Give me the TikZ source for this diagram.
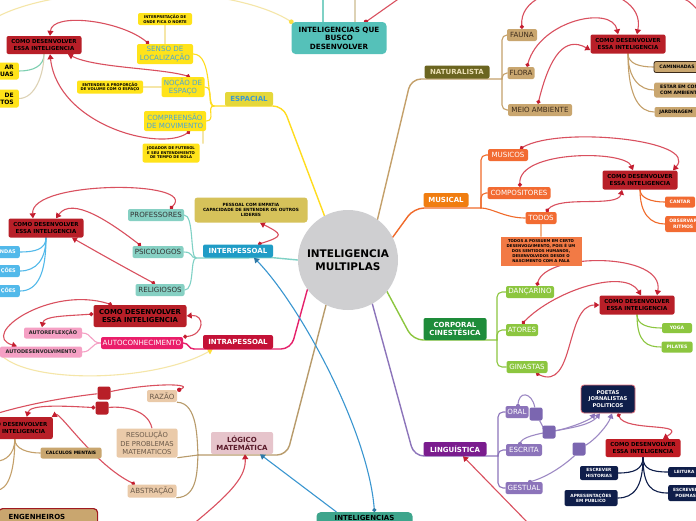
\documentclass[tikz,border=0pt]{standalone}
\usepackage{fontspec}
\setmainfont{DejaVu Sans}
\usetikzlibrary{arrows.meta,backgrounds}
\newcommand\fz[2]{\fontsize{#1}{#2}\selectfont}
\definecolor{circfill}{HTML}{CFCFD1}
\definecolor{iquefill}{HTML}{55C1B9}
\definecolor{comofill}{HTML}{B81F28}
\definecolor{relc}{HTML}{D9505F}
\definecolor{reld}{HTML}{C41E30}
\definecolor{espfill}{HTML}{E5D73A}
\definecolor{esptext}{HTML}{3D9AD1}
\definecolor{ychild}{HTML}{FFE31A}
\definecolor{ychildtext}{HTML}{4AA6D6}
\definecolor{yline}{HTML}{FFDC1E}
\definecolor{ypale}{HTML}{F5E6A8}
\definecolor{ipfill}{HTML}{1F9CC6}
\definecolor{ipchild}{HTML}{86D0C3}
\definecolor{ipline}{HTML}{7FD1C5}
\definecolor{empfill}{HTML}{D6C25A}
\definecolor{bluelf}{HTML}{52B9EA}
\definecolor{intrafill}{HTML}{C41237}
\definecolor{magline}{HTML}{E5206A}
\definecolor{autofill}{HTML}{EA1E6A}
\definecolor{pinklf}{HTML}{F5A0C4}
\definecolor{natfill}{HTML}{6B6520}
\definecolor{nattext}{HTML}{E9DDB2}
\definecolor{tanf}{HTML}{C9A66F}
\definecolor{tanline}{HTML}{C4A06A}
\definecolor{brownt}{HTML}{3B2A1A}
\definecolor{musfill}{HTML}{F07D10}
\definecolor{orline}{HTML}{F06A2A}
\definecolor{orchild}{HTML}{F26B32}
\definecolor{notefill}{HTML}{F27A45}
\definecolor{noteline}{HTML}{F5B58C}
\definecolor{corpfill}{HTML}{1E8C3A}
\definecolor{grline}{HTML}{8CC63F}
\definecolor{lingfill}{HTML}{7A1C8E}
\definecolor{puline}{HTML}{8C74BA}
\definecolor{pusq}{HTML}{7B66B0}
\definecolor{navyf}{HTML}{0F1E4A}
\definecolor{logfill}{HTML}{E6C4CB}
\definecolor{logtext}{HTML}{5A1A2A}
\definecolor{logchild}{HTML}{EACAA9}
\definecolor{logctext}{HTML}{6B5A4A}
\definecolor{logline}{HTML}{B89B6B}
\definecolor{intbfill}{HTML}{3EA58C}
\definecolor{bluerel}{HTML}{3A96D0}
\definecolor{engb}{HTML}{A01A20}
\definecolor{tealgr}{HTML}{7DCFB0}
\definecolor{beigel}{HTML}{DDD2B5}
\begin{document}
\begin{tikzpicture}[x=1pt,y=-1pt,
 nb/.style={rounded corners=2pt, inner sep=0pt, align=center},
 wh/.style 2 args={minimum width=#1, minimum height=#2},
 como/.style={nb, fill=comofill, font=\fz{5.5}{6.8}\bfseries},
 lf/.style={nb, font=\fz{4.6}{5.6}\bfseries},
 chd/.style={nb, font=\fz{7.1}{8.4}},
 brn/.style={nb, font=\fz{7}{8.4}\bfseries},
 relx/.style={draw=relc, line width=1.1pt, {Circle[length=4pt,color=reld]}-{Triangle[length=5pt,width=6pt,color=reld]}},
 relna/.style={draw=relc, line width=1.1pt, -{Triangle[length=5pt,width=6pt,color=reld]}},
 tl/.style={line width=1.4pt, line cap=round},
 sl/.style={line width=1.1pt, line cap=round},
 purel/.style={draw=puline!85, line width=1.1pt, -{Triangle[length=5pt,width=6pt,color=puline]}},
 bluer/.style={draw=bluerel, line width=1.1pt},
]
\useasboundingbox (0,0) rectangle (696,520);

% ---------- central ----------
\node[circle, fill=circfill, minimum size=100, inner sep=0pt, align=center, font=\fz{10.5}{12.6}\bfseries] (circ) at (348,260) {INTELIGENCIA\\MULTIPLAS};
\node[nb, wh={95}{32}, fill=iquefill, font=\fz{7.2}{8.6}\bfseries, rounded corners=4pt] (ique) at (339,38) {INTELIGENCIAS QUE\\BUSCO\\DESENVOLVER};

% ---------- espacial ----------
\node[brn, wh={48}{14}, fill=espfill, text=esptext] (esp) at (249,99) {ESPACIAL};
\node[chd, wh={56}{20}, fill=ychild, text=ychildtext] (senso) at (165,54) {SENSO DE\\LOCALIZAÇÃO};
\node[chd, wh={43}{20}, fill=ychild, text=ychildtext] (nocao) at (183,87) {NOÇÃO DE\\ESPAÇO};
\node[chd, wh={62}{20}, fill=ychild, text=ychildtext] (comp) at (175,121) {COMPREENSÃO\\DE MOVIMENTO};
\node[nb, wh={54}{12}, fill=ychild, font=\fz{3.8}{4.6}\bfseries] (interp) at (165,19) {INTERPRETAÇÃO DE\\ONDE FICA O NORTE};
\node[nb, wh={66}{13}, fill=ychild, font=\fz{3.8}{4.6}\bfseries] (entender) at (110,87) {ENTENDER A PROPORÇÃO\\DE VOLUME COM O ESPAÇO};
\node[nb, wh={57}{19}, fill=ychild, font=\fz{3.8}{4.6}\bfseries] (jogador) at (171,153) {JOGADOR DE FUTEBOL\\E SEU ENTENDIMENTO\\DE TEMPO DE BOLA};
\node[como, wh={75}{18}] (comoE) at (44,45) {COMO DESENVOLVER\\ESSA INTELIGENCIA};
\node[nb, anchor=east, text width=30pt, inner xsep=5pt, minimum height=17, align=right, fill=ychild, font=\fz{6}{7.2}\bfseries] (leftA) at (19,71) {AR\hspace*{7pt}\\UAS};
\node[nb, anchor=east, text width=30pt, inner xsep=5pt, minimum height=18, align=right, fill=ychild, font=\fz{6}{7.2}\bfseries] (leftB) at (19,98.5) {DE\hspace*{4pt}\\TOS};

% ---------- interpessoal ----------
\node[brn, wh={70}{13}, fill=ipfill, text=white] (interpes) at (238,251) {INTERPESSOAL};
\node[nb, wh={113}{25}, fill=empfill, font=\fz{4.3}{5.3}\bfseries, rounded corners=3pt] (pessoal) at (251,210) {PESSOAL COM EMPATIA\\CAPACIDADE DE ENTENDER OS OUTROS\\LIDERES};
\node[chd, wh={56}{12}, fill=ipchild, text=black!80] (prof) at (156,215) {PROFESSORES};
\node[chd, wh={51}{12}, fill=ipchild, text=black!80] (psic) at (158,252) {PSICOLOGOS};
\node[chd, wh={49}{12}, fill=ipchild, text=black!80] (relig) at (160,290) {RELIGIOSOS};
\node[como, wh={75}{19}] (comoI) at (46,228) {COMO DESENVOLVER\\ESSA INTELIGENCIA};
\node[nb, anchor=east, text width=30pt, inner xsep=4pt, minimum height=12, align=right, fill=bluelf, text=white, font=\fz{5}{6}\bfseries] (b1) at (20,252) {NDAS};
\node[nb, anchor=east, text width=30pt, inner xsep=4pt, minimum height=12, align=right, fill=bluelf, text=white, font=\fz{5}{6}\bfseries] (b2) at (20,271) {ÇÕES};
\node[nb, anchor=east, text width=30pt, inner xsep=4pt, minimum height=12, align=right, fill=bluelf, text=white, font=\fz{5}{6}\bfseries] (b3) at (20,291) {ÇÕES};

% ---------- intrapessoal ----------
\node[brn, wh={70}{14}, fill=intrafill, text=white] (intra) at (238,342) {INTRAPESSOAL};
\node[chd, wh={82}{12}, fill=autofill, text=white] (autocon) at (142,343) {AUTOCONHECIMENTO};
\node[como, wh={93}{22}, font=\fz{6.9}{8.4}\bfseries] (comoIn) at (140,316) {COMO DESENVOLVER\\ESSA INTELIGENCIA};
\node[nb, wh={58}{11}, fill=pinklf, text=black!85, font=\fz{5}{6}\bfseries] (autoref) at (53,333) {AUTOREFLEXÇÃO};
\node[nb, wh={82}{11}, fill=pinklf, text=black!85, font=\fz{5}{6}\bfseries] (autodes) at (41,352) {AUTODESENVOLVIMENTO};

% ---------- naturalista ----------
\node[brn, wh={65}{13}, fill=natfill, text=nattext] (nat) at (457,72) {NATURALISTA};
\node[chd, wh={30}{12}, fill=tanf, text=brownt] (fauna) at (522,35) {FAUNA};
\node[chd, wh={27}{12}, fill=tanf, text=brownt] (flora) at (521,73) {FLORA};
\node[chd, wh={64}{12}, fill=tanf, text=brownt] (meio) at (540,110) {MEIO AMBIENTE};
\node[como, wh={75}{19}] (comoN) at (628,44) {COMO DESENVOLVER\\ESSA INTELIGENCIA};
\node[lf, wh={46}{11}, fill=tanf, draw=brownt, line width=0.8pt] (camin) at (677,67) {CAMINHADAS};
\node[lf, anchor=west, text width=60pt, inner xsep=6pt, minimum height=15, align=left, fill=tanf] (estar) at (654,90) {ESTAR EM CONTATO\\COM AMBIENTE};
\node[lf, wh={43}{10}, fill=tanf] (jard) at (676,112) {JARDINAGEM};

% ---------- musical ----------
\node[brn, wh={45}{14}, fill=musfill, text=white] (mus) at (446,200) {MUSICAL};
\node[chd, wh={40}{12}, fill=orchild, text=white] (musicos) at (508,155) {MUSICOS};
\node[chd, wh={63}{12}, fill=orchild, text=white] (compos) at (519,193) {COMPOSITORES};
\node[chd, wh={31}{12}, fill=orchild, text=white] (todos) at (541,218) {TODOS};
\node[nb, wh={81}{29}, fill=notefill, font=\fz{3.9}{4.9}\bfseries, rounded corners=0pt] (note) at (541,251) {TODOS A POSSUEM EM CERTO\\DESENVOLVIMENTO, POIS É UM\\DOS SENTIDOS HUMANOS,\\DESENVOLVIDOS DESDE O\\NASCIMENTO COM A FALA};
\node[como, wh={75}{19}] (comoM) at (640,180) {COMO DESENVOLVER\\ESSA INTELIGENCIA};
\node[lf, wh={30}{11}, fill=orchild, text=white] (cantar) at (680,202) {CANTAR};
\node[lf, anchor=west, wh={36}{16}, fill=orchild, text=white] (observar) at (665,224) {OBSERVAR\\RITMOS};

% ---------- corporal ----------
\node[brn, wh={63}{22}, fill=corpfill, text=white] (corp) at (455,329) {CORPORAL\\CINESTÉSICA};
\node[chd, wh={48}{12}, fill=grline, text=white] (danc) at (530,292) {DANÇARINO};
\node[chd, wh={32}{12}, fill=grline, text=white] (atores) at (522,330) {ATORES};
\node[chd, wh={41}{12}, fill=grline, text=white] (ginastas) at (527,367) {GINASTAS};
\node[como, wh={75}{19}] (comoC) at (637,305) {COMO DESENVOLVER\\ESSA INTELIGENCIA};
\node[lf, wh={30}{10}, fill=grline, text=white] (yoga) at (677,328) {YOGA};
\node[lf, wh={31}{11}, fill=grline, text=white] (pilates) at (677,347) {PILATES};

% ---------- linguistica ----------
\node[brn, wh={63}{14}, fill=lingfill, text=white] (ling) at (455,449) {LINGUÍSTICA};
\node[chd, wh={23}{12}, fill=puline, text=white] (oral) at (517,412) {ORAL};
\node[chd, wh={36}{12}, fill=puline, text=white] (escrita) at (524,450) {ESCRITA};
\node[chd, wh={37}{12}, fill=puline, text=white] (gestual) at (524,488) {GESTUAL};
\node[nb, wh={54}{28}, fill=navyf, text=white, draw=relc!80, line width=0.8pt, font=\fz{5.2}{6.3}\bfseries, rounded corners=3pt] (poetas) at (608,399) {POETAS\\JORNALISTAS\\POLITICOS};
\node[como, wh={75}{18}, fill=comofill!90!red] (comoL) at (643,448) {COMO DESENVOLVER\\ESSA INTELIGENCIA};
\node[lf, wh={38}{14}, fill=navyf, text=white, font=\fz{4.3}{5.2}\bfseries] (escHist) at (599,473) {ESCREVER\\HISTORIAS};
\node[lf, wh={53}{16}, fill=navyf, text=white, font=\fz{4.3}{5.2}\bfseries] (apres) at (591,498) {APRESENTAÇÕES\\EM PUBLICO};
\node[lf, anchor=west, wh={32}{10}, fill=navyf, text=white, font=\fz{4.3}{5.2}\bfseries] (leitura) at (668,472) {LEITURA};
\node[lf, anchor=west, wh={35}{16}, fill=navyf, text=white, font=\fz{4.3}{5.2}\bfseries] (escPoem) at (668,493) {ESCREVER\\POEMAS};
\node[fill=pusq, rounded corners=2pt, minimum size=13, inner sep=0pt] (sq1) at (536,414) {};
\node[fill=pusq, rounded corners=2pt, minimum size=13, inner sep=0pt] (sq2) at (549,432) {};
\node[fill=pusq, rounded corners=2pt, minimum size=13, inner sep=0pt] (sq3) at (579,449) {};

% ---------- logico ----------
\node[brn, wh={62}{22}, fill=logfill, text=logtext] (logico) at (242,443) {LÓGICO\\MATEMÁTICA};
\node[chd, wh={30}{12}, fill=logchild, text=logctext] (razao) at (162,396) {RAZÃO};
\node[chd, wh={61}{29}, fill=logchild, text=logctext, font=\fz{6.8}{8.2}] (resol) at (147,443) {RESOLUÇÃO\\DE PROBLEMAS\\MATEMATICOS};
\node[chd, wh={49}{13}, fill=logchild, text=logctext] (abstr) at (152,491) {ABSTRAÇÃO};
\node[como, anchor=east, wh={76}{22}] (comoLo) at (53,428) {COMO DESENVOLVER\\ESSA INTELIGENCIA};
\node[lf, wh={61}{11}, fill=tanf, font=\fz{4.5}{5.4}\bfseries] (calc) at (71,453) {CALCULOS MENTAIS};
\node[fill=comofill, rounded corners=2pt, minimum size=13, inner sep=0pt] (sqA) at (104,393) {};
\node[fill=comofill, rounded corners=2pt, minimum size=13, inner sep=0pt] (sqB) at (102,408) {};
\node[nb, anchor=north west, text width=79pt, inner xsep=10pt, inner ysep=0pt, text height=11pt, text depth=12pt, align=left, fill=tanf, draw=engb, line width=1.2pt, rounded corners=4pt, font=\fz{7}{8.4}\bfseries] (eng) at (-2,508) {ENGENHEIROS};
\node[nb, anchor=north, minimum width=96, text height=8.5pt, text depth=14pt, fill=intbfill, rounded corners=4pt, font=\fz{7}{8.4}\bfseries] (intb) at (364.5,512) {INTELIGENCIAS};

% ---------- free ends ----------
\coordinate (espj) at (214,106);
\coordinate (ipj) at (196,258);
\coordinate (inj) at (194,349);
\coordinate (natj) at (502,79);
\coordinate (musj) at (481,208);
\coordinate (corj) at (497,340);
\coordinate (lingj) at (498,456);
\coordinate (logj) at (198,455);
\coordinate (yl0) at (-5,18);
\coordinate (yl1) at (-5,345);
\coordinate (tt1) at (323,-5);
\coordinate (tt2) at (355,-5);
\coordinate (tt3) at (404,-5);
\coordinate (tr1) at (676,-4);
\coordinate (tr2) at (700,12);
\coordinate (lfa) at (-3,461);
\coordinate (lfb) at (-3,490);
\coordinate (lfc) at (-5,414);
\coordinate (bl1) at (192,525);
\coordinate (bl2) at (530,525);

\begin{pgfonlayer}{background}
\fill[white] (0,0) rectangle (696,520);
% top free lines
\draw[ipline, sl] ([xshift=-16]ique.north) -- (tt1);
\draw[beigel, sl] ([xshift=16]ique.north) -- (tt2);
\draw[relx, -] ([xshift=27]ique.north) -- (tt3);
\fill[reld] ([xshift=27]ique.north) circle (2.2);
\draw[ypale, sl] (ique.north west) .. controls (230,-18) and (60,-18) .. (yl0);
\fill[yline!70!ypale] (ique.north west) circle (2.4);
\draw[relc, line width=1.1pt] (tr1) .. controls (688,0) .. (tr2);
\draw[ypale, sl, -{Triangle[length=5pt,width=6pt,color=yline!80!ypale]}] (yl1) .. controls (5,385) and (150,385) .. ([xshift=10]intra.south west);

% espacial tree
\draw[yline, tl, rounded corners=10] (circ.118) -- (283,106) -- (espj);
\draw[yline, sl] (espj) .. controls +(-8,0) and +(20,0) .. (senso.east);
\draw[yline, sl] (espj) .. controls +(-8,0) and +(10,0) .. (nocao.east);
\draw[yline, sl] (espj) .. controls +(-8,0) and +(10,0) .. (comp.east);
\draw[ypale, sl] (senso.north) -- (interp.south);
\draw[ypale, sl] (nocao.west) -- (entender.east);
\draw[ypale, sl] ([xshift=28]comp.south) -- ([xshift=32]jogador.north);
\draw[tealgr, sl] (comoE.south) .. controls +(0,12) and +(14,0) .. (leftA.east);
\draw[beigel, sl] (comoE.south) .. controls +(0,20) and +(16,0) .. (leftB.east);

% interpessoal tree
\draw[ipline, tl] (circ.west) -- (interpes.south east) -- (ipj);
\draw[ipline, sl] (ipj) .. controls +(-6,0) and +(10,0) .. (prof.east);
\draw[ipline, sl] (ipj) .. controls +(-6,0) and +(10,0) .. (psic.east);
\draw[ipline, sl] (ipj) .. controls +(-6,0) and +(10,0) .. (relig.east);
\draw[bluelf, sl] (comoI.south) .. controls +(0,12) and +(14,0) .. (b1.east);
\draw[bluelf, sl] (comoI.south) .. controls +(0,22) and +(16,0) .. (b2.east);
\draw[bluelf, sl] (comoI.south) .. controls +(0,35) and +(18,0) .. (b3.east);

% intrapessoal tree
\draw[magline, tl, rounded corners=10] (circ.216) -- (291,349) -- (inj);
\draw[magline, tl] (inj) .. controls +(-6,0) and +(6,0) .. (autocon.east);
\draw[pinklf, sl] (autocon.west) .. controls +(-10,0) and +(10,0) .. (autoref.east);
\draw[pinklf, sl] (autocon.west) .. controls +(-10,0) and +(10,0) .. (autodes.east);

% naturalista tree
\draw[tanline, tl, rounded corners=10] (circ.54) -- (411,79) -- (natj);
\draw[tanline, sl, rounded corners=5] (natj) |- (fauna.west);
\draw[tanline, sl, rounded corners=5] (natj) |- (flora.west);
\draw[tanline, sl, rounded corners=5] (natj) |- (meio.west);
\draw[tanline, sl] (comoN.south) .. controls +(0,10) and +(-14,0) .. (camin.west);
\draw[tanline, sl] (comoN.south) .. controls +(0,25) and +(-14,0) .. (estar.west);
\draw[tanline, sl] (comoN.south) .. controls +(0,45) and +(-14,0) .. (jard.west);

% musical tree
\draw[orline, tl, rounded corners=10] (circ.27) -- (414,208) -- (musj);
\draw[orline, sl, rounded corners=5] (musj) |- (musicos.west);
\draw[orline, sl, rounded corners=5] (musj) |- (compos.west);
\draw[orline, sl] (musj) .. controls (492,208) and (505,218) .. (todos.west);
\draw[noteline, sl] (todos.south) -- (note.north);
\draw[orline, sl] (comoM.south) .. controls +(0,8) and +(-14,0) .. (cantar.west);
\draw[orline, sl] (comoM.south) .. controls +(0,25) and +(-14,0) .. (observar.west);

% corporal tree
\draw[grline, tl, rounded corners=10] (circ.-39) -- (413,340) -- (corj);
\draw[grline, sl, rounded corners=5] (corj) |- (danc.west);
\draw[grline, sl, rounded corners=5] (corj) |- (atores.west);
\draw[grline, sl, rounded corners=5] (corj) |- (ginastas.west);
\draw[grline, sl] (comoC.south) .. controls +(0,10) and +(-14,0) .. (yoga.west);
\draw[grline, sl] (comoC.south) .. controls +(0,28) and +(-14,0) .. (pilates.west);

% linguistica tree
\draw[puline, tl, rounded corners=10] (circ.-61) -- (414,456) -- (lingj);
\draw[puline, sl, rounded corners=5] (lingj) |- (oral.west);
\draw[puline, sl, rounded corners=5] (lingj) |- (escrita.west);
\draw[puline, sl, rounded corners=5] (lingj) |- (gestual.west);
\draw[navyf, sl] (comoL.south) .. controls +(0,12) and +(16,0) .. (escHist.east);
\draw[navyf, sl] (comoL.south) .. controls +(0,30) and +(16,0) .. (apres.east);
\draw[navyf, sl] (comoL.south) .. controls +(0,12) and +(-16,0) .. (leitura.west);
\draw[navyf, sl] (comoL.south) .. controls +(0,30) and +(-16,0) .. (escPoem.west);

% logico tree
\draw[logline, tl, rounded corners=10] (circ.-116) -- (287,455) -- (logj);
\draw[logline, sl] (logj) .. controls (197,440) and (198,403) .. (razao.south east);
\draw[logline, sl] (logj) -- (resol.south east);
\draw[logline, sl] (logj) .. controls (197,470) and (198,497) .. (abstr.south east);
\draw[tanline, sl] (comoLo.south) .. controls +(0,10) and +(-12,0) .. (calc.west);
\draw[tanline, sl] (comoLo.south) .. controls +(0,15) and +(8,0) .. (lfa);
\draw[tanline, sl] (comoLo.south) .. controls +(0,35) and +(10,0) .. (lfb);

% ---------- relationships ----------
\draw[relx] ([xshift=-16]senso.north) .. controls (120,20) and (52,12) .. ([xshift=6]comoE.north);
\draw[relx] ([xshift=7]nocao.north) .. controls (160,68) and (95,68) .. ([xshift=24]comoE.south);
\draw[relx] ([xshift=15]comp.south) .. controls (160,152) and (58,125) .. ([xshift=6]comoE.south);

\draw[relx] ([xshift=14]prof.north) .. controls (200,180) and (30,180) .. ([xshift=-13]comoI.north);
\draw[relx] ([xshift=-17]psic.north) .. controls (110,222) and (72,196) .. ([xshift=10]comoI.north);
\draw[relx] ([xshift=-5]relig.north) .. controls (120,265) and (90,248) .. ([xshift=26]comoI.south);
\draw[relx] ([xshift=20]interpes.north) .. controls (285,236) and (282,234) .. ([xshift=9]pessoal.south);

\draw[relx] ([xshift=-28]comoIn.north) .. controls (50,285) and (-22,335) .. ([xshift=-24]autodes.north);
\draw[relx] ([yshift=2]comoIn.west) .. controls (65,316) and (44,316) .. ([xshift=-11]autoref.north);
\draw[relx] (autocon.north east) .. controls (205,335) and (205,314) .. (comoIn.east);

\draw[relx] (fauna.north) .. controls (518,-25) and (648,-22) .. ([xshift=9]comoN.north);
\draw[relx] ([xshift=6]flora.north) .. controls (540,20) and (612,5) .. ([xshift=-10]comoN.north);
\draw[relx] ([xshift=-2]meio.north) .. controls (550,55) and (565,36) .. ([yshift=-6]comoN.west);

\draw[relx] ([xshift=12]musicos.north) .. controls (560,126) and (700,140) .. ([xshift=33]comoM.north);
\draw[relx] ([xshift=1]compos.north) .. controls (518,150) and (625,150) .. ([xshift=-7]comoM.north);
\draw[relx] ([xshift=5]todos.north) .. controls (560,195) and (618,208) .. ([xshift=-18]comoM.south);

\draw[relx] ([xshift=7]danc.north) .. controls (545,252) and (665,252) .. ([xshift=20]comoC.north);
\draw[relx] (atores.north) .. controls (555,290) and (625,268) .. ([xshift=4]comoC.north);
\draw[relx] ([xshift=9]ginastas.south) .. controls (575,392) and (565,305) .. (comoC.west);

\draw[relx] ([xshift=10]poetas.south) .. controls (625,432) and (690,422) .. ([xshift=20]comoL.north);
\draw[puline!85, line width=1.1pt] ([xshift=1]oral.north) .. controls (518,390) and (532,392) .. (sq1);
\draw[purel] (sq1) .. controls (542,425) and (545,430) .. (sq2) .. controls (570,428) and (590,420) .. ([xshift=-13]poetas.south);
\draw[purel] ([xshift=-4]escrita.north) .. controls (522,430) and (585,432) .. ([xshift=-8]poetas.south);
\draw[purel] ([xshift=6]gestual.north) .. controls (555,475) and (575,455) .. (sq3) .. controls (595,440) and (608,425) .. ([xshift=4]poetas.south);
\fill[puline] ([xshift=-4]escrita.north) circle (2);
\fill[puline] ([xshift=6]gestual.north) circle (2);
\fill[puline] ([xshift=1]oral.north) circle (2);

\draw[relx, -] ([xshift=2]razao.north east) .. controls (198,383) and (150,383) .. (sqA) .. controls (60,398) and (25,405) .. (lfc);
\fill[reld] ([xshift=2]razao.north east) circle (2.2);
\draw[relx] ([xshift=5]resol.north) .. controls (148,410) and (125,406) .. (sqB) .. controls (65,406) and (30,404) .. ([xshift=12]comoLo.north);
\draw[relx] ([xshift=-17]abstr.north) .. controls (95,465) and (60,412) .. ([xshift=37]comoLo.north);
\draw[relna] (bl1) .. controls (235,490) and (246,475) .. ([xshift=3]logico.south);
\draw[relna] (bl2) -- ([xshift=8]ling.south);

\draw[bluer, {Circle[length=4pt,color=bluerel!80!black]}-{Triangle[length=5pt,width=6pt,color=bluerel!80!black]}] ([xshift=10]intb.north) .. controls (368,430) and (300,305) .. ([xshift=16]interpes.south);
\draw[bluer, -{Triangle[length=5pt,width=6pt,color=bluerel!80!black]}] ([xshift=-28]intb.north) -- ([xshift=18]logico.south);
\end{pgfonlayer}
\end{tikzpicture}
\end{document}
